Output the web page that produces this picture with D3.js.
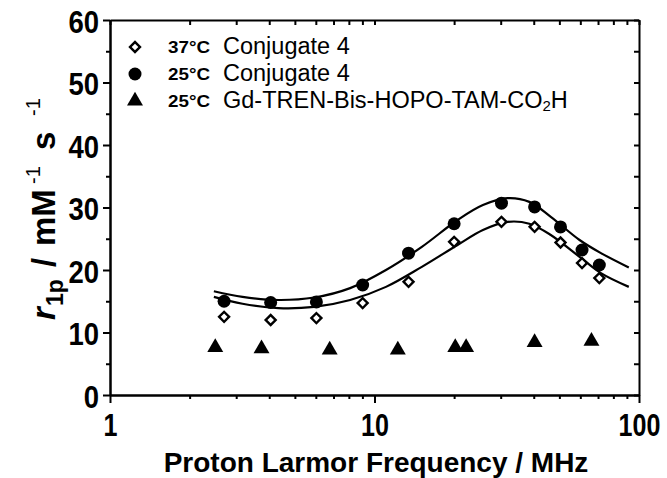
<!DOCTYPE html>
<html><head><meta charset="utf-8">
<script src="https://cdn.jsdelivr.net/npm/d3@7"></script>
<style>
body{margin:0;background:#fff;}
svg{display:block;}
text{font-family:"Liberation Sans",Arial,Helvetica,sans-serif;fill:#000;}
</style></head>
<body><svg id="chart" width="667" height="478"></svg>
<script>
// ---- data ----
const freqConj = [2.70, 4.05, 6.03, 9.02, 13.45, 20.0, 30.2, 40.3, 50.5, 60.9, 70.8];
const r37 = [12.5, 12.0, 12.3, 14.7, 18.1, 24.5, 27.7, 26.9, 24.4, 21.1, 18.7];
const r25 = [15.0, 14.8, 14.9, 17.6, 22.7, 27.4, 30.7, 30.1, 26.9, 23.2, 20.8];
const freqGd = [2.50, 3.74, 6.77, 12.25, 20.2, 22.2, 40.3, 66.1];
const rGd = [7.6, 7.4, 7.2, 7.2, 7.6, 7.6, 8.4, 8.6];
// fitted curves
const fitFreq = [2.47, 3.17, 4.33, 5.92, 8.09, 11.05, 15.1, 20.6, 25.7, 31.9, 38.5, 46.4, 59.6, 71.8, 91.5];
const fit25 = [16.6, 15.7, 15.2, 15.6, 17.1, 20.0, 23.7, 28.0, 30.4, 31.5, 30.9, 28.5, 24.8, 22.7, 20.4];
const fit37 = [15.7, 14.6, 13.9, 14.1, 15.2, 17.3, 20.5, 24.0, 26.4, 27.7, 27.4, 25.6, 22.1, 19.5, 17.3];
const xMajorTicks = [1, 10, 100];
const xMinorTicks = [2,3,4,5,6,7,8,9,20,30,40,50,60,70,80,90];
const yMajorTicks = [0, 10, 20, 30, 40, 50, 60];
const yMinorTicks = [5, 15, 25, 35, 45, 55];
const legendLabels = [
  {temp: "37°C", name: "Conjugate 4", sym: "diamond"},
  {temp: "25°C", name: "Conjugate 4", sym: "circle"},
  {temp: "25°C", name: "Gd-TREN-Bis-HOPO-TAM-CO", sub: "2", tail: "H", sym: "triangle"}
];

const svg = d3.select("#chart");
const x = d3.scaleLog().domain([1, 100]).range([110, 639]);
const y = d3.scaleLinear().domain([0, 60]).range([395, 20]);
const SW = 2;

function styleAxis(g){
  g.selectAll("path.domain").attr("stroke", "#000").attr("stroke-width", SW);
  g.selectAll(".tick line").attr("stroke", "#000").attr("stroke-width", SW);
}

// bottom axis
const gB = svg.append("g").attr("transform", `translate(0,${y(0)})`)
  .call(d3.axisBottom(x).tickValues(xMajorTicks).tickSize(8).tickSizeOuter(0).tickFormat(d3.format("d")));
styleAxis(gB);
gB.selectAll("text").attr("y", 41).attr("dy", 0)
  .style("font-size", "31px").style("font-weight", "bold")
  .attr("transform", "scale(0.81,1)");
const gBm = svg.append("g").attr("transform", `translate(0,${y(0)})`)
  .call(d3.axisBottom(x).tickValues(xMinorTicks).tickSize(4).tickSizeOuter(0).tickFormat(""));
styleAxis(gBm);

// top border
const gT = svg.append("g").attr("transform", `translate(0,${y(60)})`)
  .call(d3.axisTop(x).tickValues(xMajorTicks.concat(xMinorTicks)).tickSize(-5).tickSizeOuter(0).tickFormat(""));
styleAxis(gT);

// left axis
const gL = svg.append("g").attr("transform", `translate(${x(1)},0)`)
  .call(d3.axisLeft(y).tickValues(yMajorTicks).tickSize(7).tickSizeOuter(0).tickFormat(d3.format("d")));
styleAxis(gL);
gL.selectAll("text").attr("x", -12.8).attr("dy", 0).attr("y", 12)
  .style("font-size", "32px").style("font-weight", "bold")
  .attr("transform", "scale(0.86,1)");
const gLm = svg.append("g").attr("transform", `translate(${x(1)},0)`)
  .call(d3.axisLeft(y).tickValues(yMinorTicks).tickSize(4).tickSizeOuter(0).tickFormat(""));
styleAxis(gLm);

// right border
const gR = svg.append("g").attr("transform", `translate(${x(100)},0)`)
  .call(d3.axisRight(y).tickValues(yMajorTicks.concat(yMinorTicks)).tickSize(-5).tickSizeOuter(0).tickFormat(""));
styleAxis(gR);

// fitted curves
const line = d3.line().x(d => x(d[0])).y(d => y(d[1])).curve(d3.curveCatmullRom.alpha(0.5));
[fit25, fit37].forEach(arr => {
  svg.append("path").datum(fitFreq.map((f, i) => [f, arr[i]]))
    .attr("d", line).attr("fill", "none").attr("stroke", "#000").attr("stroke-width", 2.2);
});

// markers
const diamond = d3.symbol().type(d3.symbolSquare).size(50);
const tri = d3.symbol().type(d3.symbolTriangle).size(110);
function drawDiamond(g, cx, cy){
  g.append("path").attr("d", diamond()).attr("transform", `translate(${cx},${cy}) rotate(45)`)
    .attr("fill", "#fff").attr("stroke", "#000").attr("stroke-width", 2.4);
}
function drawCircle(g, cx, cy){
  g.append("circle").attr("cx", cx).attr("cy", cy).attr("r", 6.5).attr("fill", "#000");
}
function drawTri(g, cx, cy){
  g.append("path").attr("d", tri()).attr("transform", `translate(${cx},${cy})`).attr("fill", "#000");
}
const gm = svg.append("g");
freqGd.forEach((f, i) => drawTri(gm, x(f), y(rGd[i])));
freqConj.forEach((f, i) => drawCircle(gm, x(f), y(r25[i])));
freqConj.forEach((f, i) => drawDiamond(gm, x(f), y(r37[i])));

// legend
const legY = [47, 74, 101];
legendLabels.forEach((L, i) => {
  const cy = legY[i];
  if (L.sym === "diamond") drawDiamond(svg, 135, cy);
  else if (L.sym === "circle") drawCircle(svg, 135, cy);
  else drawTri(svg, 135, cy);
  svg.append("text").attr("x", 168).attr("y", cy + 6)
    .style("font-size", "17px").style("font-weight", "bold")
    .attr("textLength", 42).attr("lengthAdjust", "spacingAndGlyphs").text(L.temp);
  const t = svg.append("text").attr("x", 223).attr("y", cy + 7).style("font-size", "23.5px");
  t.append("tspan").text(L.name);
  if (L.sub){
    t.append("tspan").attr("dy", 3).style("font-size", "15px").text(L.sub);
    t.append("tspan").attr("dy", -3).text(L.tail);
  }
});

// axis titles
svg.append("text").attr("x", 376).attr("y", 472).attr("text-anchor", "middle")
  .style("font-size", "28px").style("font-weight", "bold").text("Proton Larmor Frequency / MHz");

const yt = svg.append("text").attr("transform", "translate(55,320) rotate(-90)")
  .attr("text-anchor", "start").style("font-size", "33px").style("font-weight", "bold");
yt.append("tspan").attr("x", 0).attr("y", 0).style("font-style", "italic").text("r");
yt.append("tspan").attr("x", 14).attr("y", 8).style("font-size", "23px").text("1p");
yt.append("tspan").attr("x", 53).attr("y", 0).text("/");
yt.append("tspan").attr("x", 74).attr("y", 0).text("mM");
yt.append("tspan").attr("x", 136).attr("y", -15).style("font-size", "20px").style("font-weight", "normal").text("-1");
yt.append("tspan").attr("x", 170).attr("y", 0).text("s");
yt.append("tspan").attr("x", 204).attr("y", -15).style("font-size", "20px").style("font-weight", "normal").text("-1");
</script></body></html>
